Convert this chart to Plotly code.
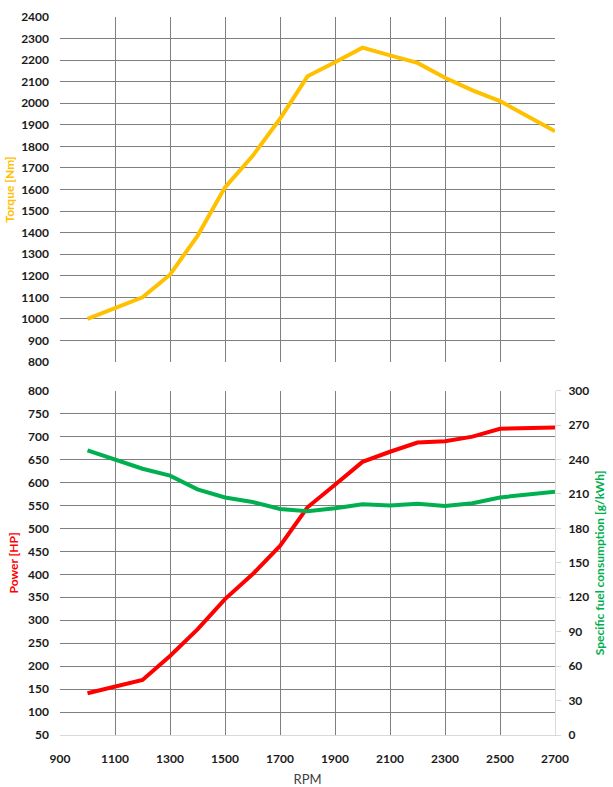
import plotly.graph_objects as go

rpm = [1000, 1100, 1200, 1300, 1400, 1500, 1600, 1700, 1800, 1900,
       2000, 2100, 2200, 2300, 2400, 2500, 2600, 2700]
torque_nm = [1000, 1050, 1100, 1205, 1385, 1610, 1755, 1928, 2125, 2190,
             2258, 2222, 2187, 2118, 2060, 2010, 1938, 1870]
power_hp = [141, 155, 170, 222, 280, 346, 400, 462, 546, 595,
            645, 667, 687, 690, 700, 717, 718, 720]
fuel_gkwh = [248, 240, 232, 226, 214, 207, 203, 197, 195, 197.5,
             201, 200, 201.5, 199.5, 202, 207, 209.5, 212]

C_TORQUE = "#FFC000"
C_POWER = "#FF0000"
C_FUEL = "#00B050"
GRID = "#7F7F7F"
LIGHT = "#D9D9D9"
FONT = "Lato"

fig = go.Figure()
fig.add_trace(go.Scatter(x=rpm, y=torque_nm, mode="lines", xaxis="x", yaxis="y",
                         line=dict(color=C_TORQUE, width=4), name="Torque"))
fig.add_trace(go.Scatter(x=rpm, y=power_hp, mode="lines", xaxis="x2", yaxis="y2",
                         line=dict(color=C_POWER, width=4), name="Power"))
fig.add_trace(go.Scatter(x=rpm, y=fuel_gkwh, mode="lines", xaxis="x2", yaxis="y3",
                         line=dict(color=C_FUEL, width=4), name="Fuel"))

tickfont = dict(family=FONT, size=12, color="#1a1a1a", weight="bold")
xcommon = dict(range=[900, 2700], dtick=200, tick0=900, showgrid=True,
               gridcolor=GRID, gridwidth=1, zeroline=False, tickfont=tickfont,
               automargin=False)

W, H = 613, 787
ml, mr, mt, mb = 60, 58, 17, 52
ph = H - mt - mb
top_dom = [(H - 362 - mb) / ph, 1.0]
bot_dom = [0.0, (H - 390.7 - mb) / ph]

fig.update_layout(
    width=W, height=H,
    margin=dict(l=ml, r=mr, t=mt, b=mb),
    paper_bgcolor="white", plot_bgcolor="white",
    showlegend=False,
    font=dict(family=FONT),
    xaxis=dict(**xcommon, anchor="y", showticklabels=False, showline=False),
    xaxis2=dict(**xcommon, anchor="y2", matches="x", showline=True, linecolor=LIGHT,
                ticks="", ticklabelstandoff=13,
                title=dict(text="RPM", font=dict(family=FONT, size=13, color="#404040"),
                           standoff=10)),
    yaxis=dict(domain=top_dom, range=[800, 2400], dtick=100, tick0=800,
               showgrid=True, gridcolor=GRID, zeroline=False, showline=False,
               ticks="", ticklabelstandoff=10, tickfont=tickfont, automargin=False,
               title=dict(text="<b>Torque [Nm]</b>",
                          font=dict(family=FONT, size=12, color=C_TORQUE), standoff=3)),
    yaxis2=dict(domain=bot_dom, range=[50, 800], dtick=50, tick0=50,
                showgrid=True, gridcolor=GRID, zeroline=False, showline=False,
                ticks="", ticklabelstandoff=10, tickfont=tickfont, anchor="x2",
                automargin=False,
                title=dict(text="<b>Power [HP]</b>",
                           font=dict(family=FONT, size=12, color=C_POWER), standoff=6)),
    yaxis3=dict(range=[0, 300], dtick=30, tick0=0, overlaying="y2", side="right",
                anchor="x2", showgrid=False, zeroline=False, showline=True,
                linecolor=LIGHT, ticks="outside", ticklen=5, tickcolor=LIGHT,
                ticklabelstandoff=5, tickfont=tickfont, automargin=False,
                title=dict(text="<b>Specific fuel consumption [g/kWh]</b>",
                           font=dict(family=FONT, size=12, color=C_FUEL), standoff=7)),
)

fig.write_html("out.html")
